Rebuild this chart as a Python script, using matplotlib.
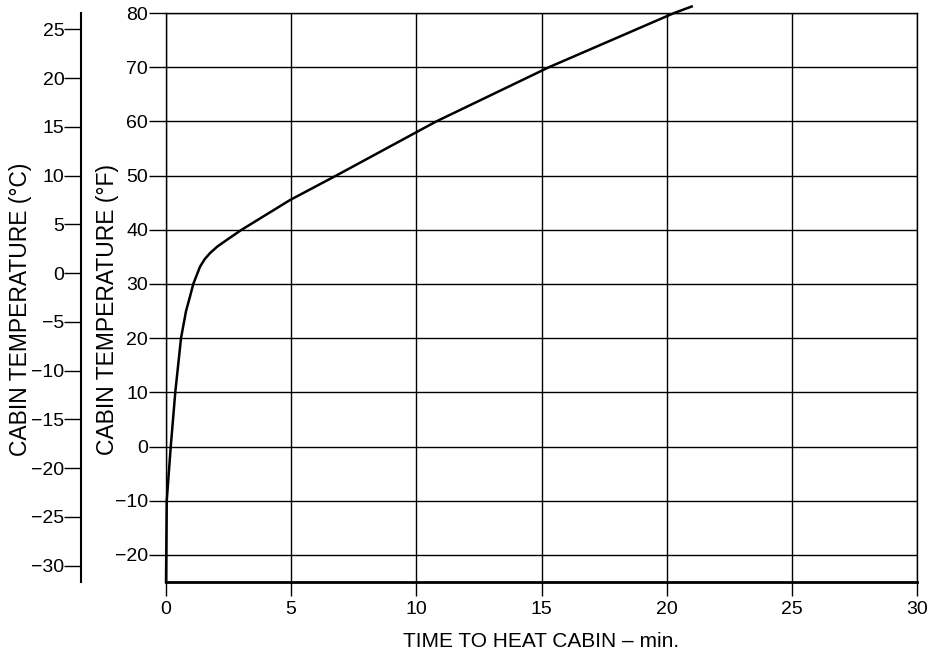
import matplotlib
matplotlib.use("Agg")
import matplotlib.pyplot as plt

plt.rcParams['font.family'] = ['Liberation Sans', 'DejaVu Sans']

# Data
time_min = [0.0, 0.01, 0.03, 0.19, 0.37, 0.6, 0.8, 0.96, 1.09, 1.36, 1.55, 1.76, 2.05, 2.42, 3.02, 4.96, 6.8, 10.8, 15.3, 20.3, 21.0]
temp_f = [-25, -20, -10, 0, 10, 20, 25, 27.7, 30, 33.2, 34.6, 35.7, 36.9, 38.1, 40, 45.5, 50, 60, 70, 80, 81.2]

x_ticks = [0, 5, 10, 15, 20, 25, 30]
f_ticks = [-20, -10, 0, 10, 20, 30, 40, 50, 60, 70, 80]
c_ticks = [-30, -25, -20, -15, -10, -5, 0, 5, 10, 15, 20, 25]

W, H = 927, 653
fig = plt.figure(figsize=(W / 100, H / 100), dpi=100)
left, right, top, bottom = 166, 917, 13, 582
ax = fig.add_axes([left / W, 1 - bottom / H, (right - left) / W, (bottom - top) / H])

ax.plot(time_min, temp_f, color='black', lw=1.8, clip_on=False, zorder=5)

ax.set_xlim(0, 30)
ax.set_ylim(-25, 80)
ax.set_xticks(x_ticks)
ax.set_yticks(f_ticks)
ax.set_xticklabels([str(v) for v in x_ticks])
ax.set_yticklabels([str(v).replace('-', '\u2212') for v in f_ticks])
ax.grid(True, color='black', lw=1.0)
ax.set_axisbelow(True)
for s in ['left', 'right', 'top']:
    ax.spines[s].set_linewidth(1.0)
ax.spines['bottom'].set_linewidth(2.0)
ax.tick_params(axis='x', direction='out', length=10, width=1.0, labelsize=14, colors='black', pad=4)
ax.tick_params(axis='y', direction='out', length=12, width=1.0, labelsize=14, colors='black', pad=1)

sec = ax.secondary_yaxis(-85 / (right - left),
                         functions=(lambda f: (f - 32) * 5 / 9, lambda c: c * 9 / 5 + 32))
sec.set_yticks(c_ticks)
sec.set_yticklabels([str(v).replace('-', '\u2212') for v in c_ticks])
sec.tick_params(direction='out', length=12, width=1.0, labelsize=14, pad=0)
sec.spines['left'].set_linewidth(1.5)

fig.text(541 / W, 1 - 647 / H, 'TIME TO HEAT CABIN \u2013 min.', fontsize=15,
         ha='center', va='baseline')
fig.text(108 / W, 1 - 309.5 / H, 'CABIN TEMPERATURE (\u00b0F)', fontsize=16.5,
         rotation=90, ha='center', va='center')
fig.text(20.5 / W, 1 - 309.5 / H, 'CABIN TEMPERATURE (\u00b0C)', fontsize=16.5,
         rotation=90, ha='center', va='center')

fig.savefig('out.png', dpi=100)
